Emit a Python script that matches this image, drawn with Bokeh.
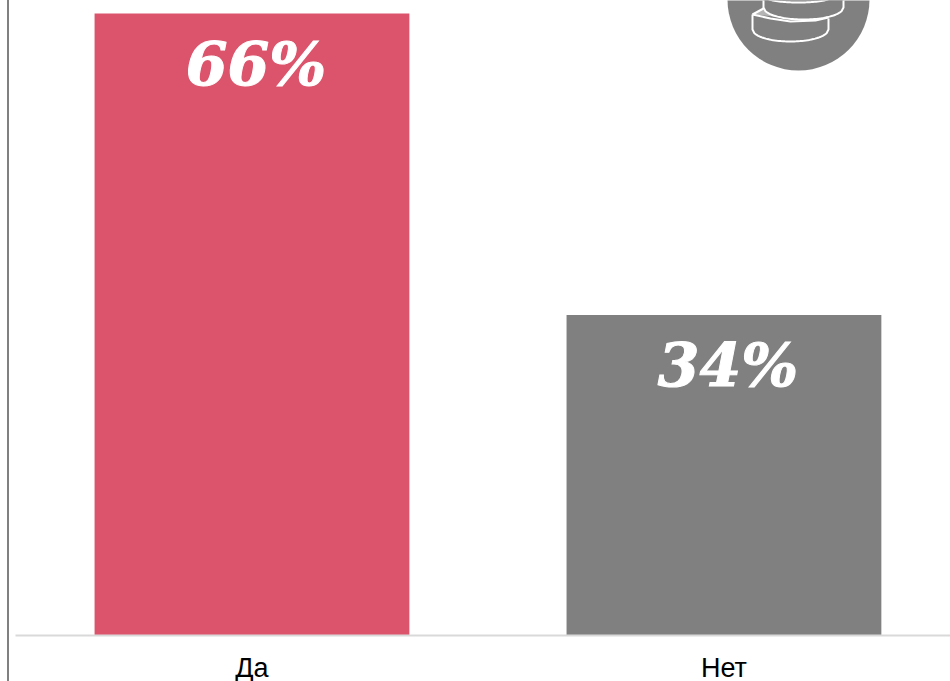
from bokeh.plotting import figure
from bokeh.models import Range1d, FixedTicker, ColumnDataSource
from bokeh.core.properties import value
from bokeh.embed import file_html
from bokeh.resources import INLINE
import math

categories = ["Да", "Нет"]
values = [66, 34]
labels = ["66%", "34%"]
colors = ["#dc546c", "#808080"]
positions = [0, 1]

ICON = "#808080"

p = figure(width=950, height=681, frame_width=950, frame_height=635,
           output_backend="svg", toolbar_location=None,
           x_range=Range1d(-0.5328, 1.48), y_range=Range1d(0, 67.38),
           min_border=0, min_border_left=0, min_border_right=0, min_border_top=0, min_border_bottom=0,
           x_axis_location="below", y_axis_location=None, outline_line_color=None)
p.grid.visible = False
p.background_fill_color = None
p.border_fill_color = None
# thin vertical rule down the left of the page, behind the transparent canvas
p.styles = {"background": "linear-gradient(to right, #fff 7px, #808080 7px, #808080 8.5px, #fff 8.5px)"}

p.extra_x_ranges["px"] = Range1d(0, 950)
p.extra_y_ranges["px"] = Range1d(635, 0)

ax = p.xaxis[0]
ax.ticker = FixedTicker(ticks=positions)
ax.major_label_overrides = {i: c for i, c in zip(positions, categories)}
ax.bounds = (-0.5, 1.48)
ax.axis_line_color = "#d9d9d9"
ax.axis_line_width = 2
ax.major_tick_line_color = None
ax.minor_tick_line_color = None
ax.major_tick_in = 0
ax.major_tick_out = 0
ax.minor_tick_in = 0
ax.minor_tick_out = 0
ax.major_label_text_font = "Liberation Sans"
ax.major_label_text_font_size = "27px"
ax.major_label_text_color = "#000000"
ax.major_label_text_line_height = 0.8
ax.major_label_standoff = 17

src = ColumnDataSource(dict(x=positions, top=values, color=colors, label=labels))
p.vbar(x="x", top="top", bottom=0, width=0.667, fill_color="color", line_color=None, source=src)
p.text(x="x", y="top", text="label", source=src, text_color="white",
       text_font=value("DejaVu Serif"), text_font_style="bold italic", text_font_size="60px",
       text_outline_color="white",
       text_align="center", text_baseline="top", y_offset=15, x_offset=4)

kw = dict(x_range_name="px", y_range_name="px")
p.ellipse(x=[798], y=[-1], width=[142], height=[142], width_units="screen", height_units="screen",
          fill_color=ICON, line_color=None, **kw)

def arc(cx, cy, rx, ry, n=40):
    xs = [cx - rx + 2 * rx * i / n for i in range(n + 1)]
    ys = [cy + ry * math.sqrt(max(0, 1 - ((x - cx) / rx) ** 2)) for x in xs]
    return xs, ys

LW = 2
# lower coin: side wall and bottom rim
xs, ys = arc(790, 29, 38, 12)
p.line([752] + xs + [828], [14] + ys + [18], line_color="white", line_width=LW, **kw)
# visible sliver of the lower coin's top
p.patch([753, 764, 772, 790, 815], [14, 8, 13, 19, 20], fill_color="#b5b5b5", line_color=None, **kw)
p.line([752, 763], [14, 8], line_color="white", line_width=LW, **kw)
p.line([752, 770, 790, 815, 828], [14, 18, 21, 20, 17], line_color="white", line_width=LW, **kw)
# upper coin: side wall and bottom rim
xs, ys = arc(803, 7, 40, 12)
p.patch([763] + xs + [843], [-8] + ys + [-8], fill_color=ICON, line_color=None, **kw)
p.line([763] + xs + [843], [-8] + ys + [-8], line_color="white", line_width=LW, **kw)
# top coin's rim
xs, ys = arc(798, -3, 32, 5)
p.line(xs, ys, line_color="white", line_width=LW, **kw)

open("out.html", "w").write(file_html(p, INLINE))
